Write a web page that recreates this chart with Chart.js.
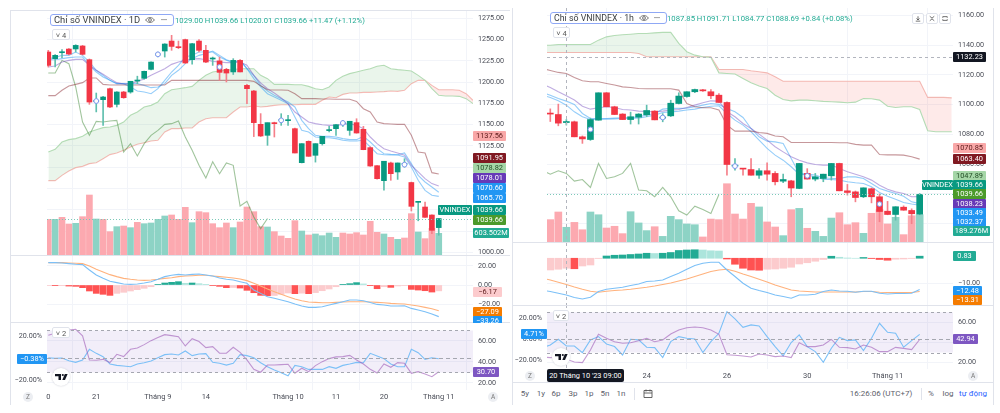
<!DOCTYPE html>
<html>
<head>
<meta charset="utf-8">
<title>VNINDEX</title>
<script src="https://cdn.jsdelivr.net/npm/chart.js@4/dist/chart.umd.min.js"></script>
<style>
html, body { margin: 0; background: #fff; }
#page { position: relative; width: 1000px; height: 413px; overflow: hidden; font-family: Roboto, sans-serif; }
#page canvas { position: absolute; }
.abs { position: absolute; white-space: nowrap; }
.tag { position: absolute; height: 10px; line-height: 10px; font-size: 7.4px; text-align: center; z-index: 5; border-radius: 1px; }
.box { position: absolute; border: 1px solid #e0e3eb; border-radius: 2px; background: #fff; color: #555; font-size: 7.5px; text-align: center; z-index: 4; box-sizing: border-box; }
.pill { position: absolute; border: 1px solid #8fa8f5; border-radius: 3px; background: #fff; color: #3c4043; font-size: 9.4px; box-sizing: border-box; z-index: 4; padding-left: 3px; }
.head { position: absolute; color: #22ab94; font-size: 7.7px; z-index: 3; white-space: nowrap; }
.round { position: absolute; width: 10px; height: 10px; line-height: 10px; border-radius: 50%; background: #eceef2; color: #777; font-size: 6.5px; text-align: center; z-index: 4; }
.tool { position: absolute; top: 389px; font-size: 8px; line-height: 10px; color: #5d606b; transform: translateX(-50%); white-space: nowrap; }
</style>
</head>
<body>
<div id="page"></div>
<script>
// left chart, daily
var lOpen = [1235.4,1227.6,1234.6,1238.9,1239,1242.5,1226.4,1177,1179.4,1192.3,1173.9,1188.4,1188.4,1201.3,1204.5,1215,1232,1236.6,1248.3,1241.3,1250,1226.4,1248.3,1237.4,1227.2,1225,1215,1212,1225.6,1196.2,1189.6,1150.4,1137.5,1152,1154.7,1154.7,1145.3,1105.3,1130.4,1114,1127.7,1143,1145.3,1151.2,1143.3,1152.4,1144.5,1123,1101.8,1084.2,1105,1094.4,1103.4,1082,1058.7,1053.2,1043.8,1029];
var lHigh = [1237.4,1232.3,1238.2,1239.5,1244,1243.2,1227.2,1187.2,1183.3,1193,1188.8,1189.2,1201,1207,1213,1224,1235.4,1245.2,1255,1248.3,1250.6,1245.6,1250,1243.2,1229.5,1229.5,1216.2,1227.6,1226.4,1197.4,1190.4,1163,1152,1153,1162.9,1161,1146,1127.7,1131,1127.7,1136.3,1148,1150.4,1155,1154,1157,1148,1124,1102,1107,1106,1105,1110,1082.5,1059.5,1059,1044,1039.66];
var lLow = [1217.8,1217.8,1228.8,1232,1235.4,1232,1173.9,1165,1149.2,1170,1170.8,1181,1187,1198.2,1203.5,1214.5,1229.5,1229.5,1237.4,1239.3,1222,1221,1235.4,1223,1219.7,1202.1,1200.2,1209,1211.9,1174.7,1136,1136,1125.7,1135.5,1149.2,1149.2,1116.7,1105,1112.8,1106,1126,1141.4,1137.5,1148,1137.5,1140,1120.5,1101,1086,1073,1084.6,1085.7,1100,1048.5,1037,1041,1022,1020.01];
var lClose = [1219.7,1231.5,1235.4,1233,1243.2,1232.7,1176.6,1178.6,1182.5,1170.8,1188.4,1181.7,1201,1202.1,1212.7,1223.6,1233,1244.8,1242,1240.5,1222.5,1245.2,1237.4,1223.6,1228,1211.5,1210.7,1225.6,1212,1192.3,1152.4,1136.7,1152.4,1151.2,1155.5,1155.9,1116.7,1127.7,1112.8,1127.7,1136.3,1143.7,1150,1152.4,1154,1140.2,1120.6,1101.4,1086.5,1107,1092.4,1105,1104.2,1054,1059.5,1041.1,1025.8,1039.66];
var lVolume = [993,993,1049,863,882,1067,1670,1002,993,650,789,807,761,909,872,891,993,1086,1114,993,1327,900,1206,1179,872,761,891,761,919,1336,1206,789,780,650,529,464,956,668,557,585,538,612,492,612,585,622,557,937,631,585,492,436,473,1151,640,455,742,603.5];
var lVolumeDir = "RGRRGRRGRRGRGRGGGGRRRGRRRRRGRRRRGRRRRGRGGGGRRRRRRGRGRRGRRG";
var lBrown = [1184.1,1184.1,1190.4,1195.5,1197.4,1199.4,1204.9,1204.9,1197.4,1196.6,1196.6,1196.6,1196.6,1196.6,1196.6,1196.6,1196.6,1196.6,1202.1,1202.1,1202.1,1202.1,1202.1,1202.1,1202.1,1202.1,1202.1,1202.1,1202.1,1202.1,1200.9,1195.8,1191.1,1190.7,1190.7,1190.4,1186.4,1180.6,1180.6,1180.6,1180.2,1180.2,1179.8,1179.8,1179.8,1177.4,1168.8,1164.9,1153.1,1151.2,1150.8,1150.4,1150.4,1137.5,1117.9,1116.7,1093.6,1091.95];
var lPurple = [1217.8,1219,1223.7,1225.6,1226.8,1226.8,1219.8,1213.9,1209.2,1204.1,1199.4,1197.8,1198.2,1200.9,1203.7,1208,1211.9,1215.8,1220.9,1223.7,1225.6,1227.2,1227.6,1226.4,1224.4,1223.7,1222.9,1222.9,1223.7,1219.8,1208,1199,1192.3,1187.2,1181.3,1174.7,1164.9,1159,1153.1,1151.2,1150,1149.2,1149.2,1150.4,1151.2,1149.2,1145.3,1135.5,1127.7,1121.8,1119,1116.7,1114,1102.2,1094.4,1086.5,1080.7,1078.01];
var lBlueA = [1227.6,1228.8,1231.5,1231.5,1235.4,1231.5,1223.7,1213.9,1208,1202.1,1198.2,1198.2,1194.3,1189.6,1188.4,1186.4,1192.3,1202.1,1211.9,1219.8,1229.5,1231.5,1235.4,1235.4,1235.4,1229.5,1225.6,1222.5,1225.6,1215.8,1208,1196.2,1189.6,1184.5,1180.6,1176.7,1170.8,1155.1,1145.3,1137.5,1136.3,1136.3,1135.5,1133.6,1132.4,1132.4,1136.3,1129.6,1121.8,1115.9,1115.1,1114.7,1116.7,1104.2,1090.4,1082.6,1076.7,1070.6];
var lBlueB = [1226.4,1226.4,1227.6,1228.8,1229.5,1229.5,1219.8,1211.9,1206,1202.1,1198.2,1198.2,1198.2,1198.2,1196.2,1193.5,1194.3,1198.2,1208,1213.9,1221.7,1227.6,1231.5,1233.5,1236.6,1231.5,1226.4,1223.7,1225.6,1215.8,1204.1,1194.3,1186.4,1182.5,1178.6,1174.7,1159,1143.3,1141.4,1135.5,1134.7,1134.7,1133.6,1131.6,1130.8,1130.8,1131.6,1123.8,1115.9,1114.7,1114.4,1114.4,1112,1100.2,1084.6,1072.8,1067,1065.7];
var lSpanA = [1117.9,1121,1129.6,1132.4,1133.6,1136.3,1141.4,1144.1,1146.5,1147.3,1149.2,1153.1,1161,1164.9,1170.8,1172.7,1176.7,1186.4,1191.1,1192.3,1193.5,1195,1202.1,1208,1211.9,1213.1,1213.9,1214.7,1215.8,1215.8,1215.8,1208,1204.1,1197.4,1197.4,1197.4,1197,1197,1195,1192.3,1191.1,1194.3,1202.1,1206.8,1210,1211.9,1213.9,1215.8,1218.6,1219.8,1215.8,1214.7,1213.9,1213.1,1208,1202.1,1192.3,1184.5,1183.7,1183.7,1183.3,1180.6,1174.7];
var lSpanB = [1084.2,1084.2,1090.4,1095.5,1099.5,1101,1104.2,1105.3,1110,1114.8,1116.7,1119.8,1123.8,1126.9,1128.8,1130.8,1131.6,1141.4,1145.3,1145.3,1146.1,1146.1,1153.1,1157,1158.2,1158.2,1158.2,1164.9,1170.8,1170.8,1172.3,1170.8,1171.5,1172.7,1173.5,1173.5,1173.5,1173.9,1173.9,1173.9,1178.6,1182.5,1181.7,1185.6,1187.2,1187.2,1188,1188,1188.4,1188.8,1189.6,1189.2,1190.4,1198.2,1202.1,1202.1,1196.2,1191.1,1191.1,1191.1,1190.4,1186.4,1178.6];
var lLagging = [1210.7,1210.7,1225.6,1221.7,1194.3,1153.1,1137.5,1153.9,1153.1,1154.3,1155.1,1117.9,1127.7,1113.2,1127.7,1137.5,1143.3,1150.4,1151.2,1154.3,1135.5,1119.8,1102.2,1087.3,1106.5,1092.4,1105,1102.2,1054.4,1059.9,1041.5,1027.8,1039.66];
var lMarkerAt = [7,16,25,34,43,52];
var lMarkerPrice = [1177.8,1232.7,1217.8,1155.1,1152,1103];
var lMacd = [23.5,23.5,23.2,22.5,21.8,21.4,15.8,10.5,7,3.9,2.5,1.1,.7,1.1,2.1,3.5,6,8.8,10.2,11.2,10.5,11.2,11.6,10.5,9.5,7.4,6,5.3,3.5,1.8,-5.3,-8.8,-12.3,-14,-15.8,-17.6,-20,-22.1,-23.5,-23.5,-22.8,-21.1,-19.3,-17.6,-15.8,-15.8,-16.5,-18.3,-20.4,-21.1,-22.1,-22.1,-21.8,-24.6,-26.3,-28.1,-30.5,-33.26];
var lSignal = [23.5,23.5,23.5,23.2,22.8,22.5,20,16.5,13.7,10.9,8.8,7,6,5.3,4.9,5.3,6,7,7.7,8.8,9.5,9.8,10.2,10.2,9.5,8.8,8.1,7.4,6.3,4.6,1.8,-1.1,-4.2,-7,-9.8,-12.3,-14.7,-16.5,-17.9,-18.3,-18.6,-18.6,-18.3,-17.9,-17.6,-17.6,-17.6,-17.9,-18.3,-18.6,-19.3,-19.7,-20,-21.1,-22.1,-23.5,-24.9,-27.09];
var lHist = [-.4,-.7,-.7,-1.1,-1.4,-2.8,-6.3,-8.8,-9.8,-10.9,-8.8,-7.7,-6.3,-4.9,-3.5,-1.8,.7,2.1,2.8,3.5,1.8,2.1,1.4,.7,-.4,-1.4,-2.8,-2.6,-3.2,-5.6,-8.1,-10.9,-11.2,-11,-9.8,-8.4,-9.1,-8.6,-9.1,-8,-6,-4.2,-1.8,.7,1.4,2.5,1.1,-.7,-3.9,-1.8,-2.5,-1,-.4,-4.6,-5.3,-6,-7.4,-6.17];
var lRsi = [65.4,67.3,68.9,70.5,71.1,64.8,41.9,41.6,42.5,39.4,47.3,45.1,52.1,53.3,56.5,60.3,63.2,66,65.1,64.1,55.2,62.2,59.4,53.7,54.6,48.3,48.3,54,49.2,41.9,33,30.2,37.1,37.1,37.5,37.8,29.2,34,30.8,36.5,40.3,43.2,44.8,45.1,46.3,41.9,38.1,33,29.5,38.1,34.9,39.4,38.7,29.2,30.8,28.6,26,30.7];
var lRoc = [.6,0,.3,-2.2,-3.7,-1.5,8.3,4.6,1.5,-5.2,-6.5,-7.1,-7.7,-5.2,-4,-2.5,.6,3.4,4,3.1,6.8,2.5,4,4.3,-3.7,-4.6,-6.2,-4.6,3.4,2.5,.6,-4,-7.7,-10.8,-13.2,-16,-6.5,-7.7,-10.2,-10.2,-10.2,-7.7,-9.2,-6.5,-5.2,-3.7,-4,4.6,2.2,-.3,-5.2,-7.7,-7.7,8.3,5.2,-.9,.6,-.38];
var lTimeAt = [0,7,16,23,35,42,49,57];
var lTimeLabels = ["0","21","Tháng 9","14","Tháng 10","11","20","Tháng 11"];
var lPriceTicks = [1275,1250,1225,1200,1175,1150,1125,1100,1075,1050,1025,1000];
var lMacdTicks = [20,0,-20];
var lRsiTicks = [60,40,20];

// right chart, hourly. Line arrays start one bar before the first candle
var rOpen = [1094,1093.4,1088,1088.5,1078.4,1076.6,1089.6,1108,1098.6,1093.7,1090,1091.6,1093.2,1095.7,1091,1092.5,1100.8,1105.5,1108.7,1110,1108.7,1106.4,1101.5,1058.7,1057,1056.4,1052.6,1055.6,1053.8,1048.6,1048.8,1043.7,1053.8,1050,1050.4,1052.2,1060.5,1042.1,1041.4,1038.1,1043.5,1038.1,1028.4,1026.2,1031.1,1028.9,1026.4];
var rHigh = [1097.2,1100.4,1090,1089,1079,1091,1108,1108.2,1099,1094,1095,1094,1099.7,1096,1094,1103,1108,1108.7,1110.5,1110.4,1110.2,1107.5,1102,1063.8,1057.3,1063.8,1057,1061,1055,1053.3,1049.2,1060.5,1057,1053.8,1053.3,1060.5,1060.7,1046.4,1042,1044.1,1044,1040,1035,1031.4,1032,1030,1040.3];
var rLow = [1088.7,1085.8,1086.3,1078.4,1074,1076,1089.6,1098.6,1093.4,1090,1087,1087,1092,1089.8,1088.5,1092,1100.5,1105,1108,1109,1104,1101.5,1052.6,1056,1052.6,1052.6,1050.4,1049.3,1046,1047.5,1038.1,1043.5,1050,1048.8,1048.2,1049.3,1042.1,1039.2,1034.7,1037.5,1034,1021.3,1026,1022.4,1029,1020,1026];
var rClose = [1093.7,1087.6,1088.5,1078.4,1077,1090,1108,1098.6,1093.4,1090,1091.9,1093.7,1096.1,1089.8,1091.5,1101,1105.8,1108.7,1110.2,1109.3,1106,1101.5,1059.8,1059,1056.7,1052.6,1055.6,1053.3,1048.2,1049.7,1044,1060.5,1050,1051.5,1053.3,1060.5,1042.1,1041,1037.6,1044.1,1038.1,1028.2,1026.2,1031.4,1029.1,1026.7,1039.66];
var rVolume = [155,208,102,136,85,208,189,97,109,58,210,132,79,106,39,178,155,125,120,35,159,155,404,194,159,268,243,139,104,44,224,233,95,74,39,166,203,120,134,60,199,224,125,171,51,182,189.3];
var rVolumeDir = "RRGRRGGRRRGGGRGGGGGRRRRRRRGRRGRGRGGGRRRGRRRGRRG";
var rBrown = [1124.4,1123,1121.7,1121,1118.3,1116.1,1115.4,1115.4,1114.3,1113.2,1112,1111.6,1110.9,1110.7,1110.7,1110.7,1110.7,1109.8,1100.8,1098.6,1097.9,1097.9,1096.4,1086.3,1082.2,1082.2,1082.2,1081.3,1080.7,1078.9,1078.4,1074.6,1074.6,1074.6,1074.6,1074.6,1074.6,1074.4,1074.4,1073.3,1072.8,1072.8,1066.5,1066.3,1066.3,1066.1,1065,1063.4];
var rPurple = [1113.8,1111.6,1108.7,1106,1103.1,1099,1097,1097.9,1098.6,1098.1,1096.8,1096.4,1095.7,1095.5,1095.2,1095.7,1096.4,1096.8,1098.1,1099.7,1101.3,1102.6,1102.4,1095.2,1091.9,1087.4,1084,1080.2,1076.2,1071.7,1068.3,1065,1062.7,1060.9,1059.8,1059.4,1059.4,1057.1,1054.9,1053.3,1051.5,1049.3,1045.9,1043.2,1041.4,1040.3,1038.1,1038.23];
var rBlueA = [1108,1106.4,1104.2,1102.4,1100.2,1094.1,1090.7,1090.7,1090.7,1091,1091.2,1091.4,1091.9,1093,1094.1,1097,1097.5,1097.5,1097.7,1098.6,1099.7,1100.8,1100.2,1097.5,1095.2,1091.4,1084,1078.4,1075.5,1075,1073.9,1063.9,1053.8,1053.3,1052.7,1050.9,1050.4,1050.4,1051.5,1051.5,1050.4,1047,1043.7,1041.9,1040.3,1038.5,1034.7,1033.49];
var rBlueB = [1106.4,1104.9,1102.6,1099.7,1095.2,1091.9,1090.1,1090.1,1090.3,1090.5,1090.7,1091,1091,1091.9,1093,1094.8,1095.2,1095.7,1096.4,1097,1098.1,1099,1099.3,1094.1,1089.6,1086.3,1081.8,1076.2,1070.6,1066.1,1062.7,1058.3,1053.3,1052.7,1051.5,1049.7,1049.7,1049.3,1048.2,1047.5,1047,1044.8,1041,1038.5,1036.5,1034.3,1033.2,1032.37];
var rSpanA = [1140,1140,1140.5,1140.5,1140.5,1140.5,1140.5,1143.4,1145.6,1146.5,1147,1147.4,1147.9,1147.9,1148.3,1148.6,1148.6,1141.2,1135.6,1133.3,1132.2,1131.8,1121.4,1121,1120.6,1117.6,1114.7,1112.5,1110.9,1106.4,1103.5,1102.6,1103.1,1103.1,1102.6,1102.2,1102,1101.7,1101.3,1101.7,1104.2,1104,1103.1,1099,1098.1,1098.6,1098.6,1096.8,1082.5,1081.8,1081.8,1081.8];
var rSpanB = [1135.1,1135.1,1135.1,1135.1,1135.1,1135.1,1135.1,1135.1,1135.1,1135.1,1135.1,1135.1,1134.4,1132.2,1132.2,1132.2,1132.2,1132.2,1132.2,1132.2,1132.2,1132.2,1123.7,1123.7,1123.7,1123.7,1122.8,1122.1,1121.4,1118.8,1115.8,1115.8,1115.8,1115.8,1115.8,1115.8,1115.8,1115.8,1115.8,1115.8,1115.8,1115.8,1115.8,1115.8,1115.8,1115.8,1115.8,1115.8,1104.9,1104.9,1104.9,1104.6];
var rLagging = [1056,1053.3,1055.6,1053.8,1048.6,1049.7,1044.4,1060.5,1050.4,1051.5,1053.8,1060.5,1042.6,1042.1,1038.1,1044.4,1038.1,1028.7,1025.8,1031.8,1029.6,1026.9,1039.66];
var rMarkerAt = [5,14,23,32,41];
var rMarkerPrice = [1083.4,1091.4,1058.7,1052.2,1033.2];
var rMacd = [-12.8,-13.3,-14,-14.7,-15.7,-16.3,-15.6,-13.3,-12.4,-12,-11.6,-10.9,-10.3,-9.3,-9.1,-8.7,-7.3,-6,-4.4,-2.9,-2,-1.6,-1.6,-4.7,-7.3,-10,-12,-12.9,-13.7,-14.7,-15.3,-16,-14.7,-14.7,-14.4,-13.3,-12.7,-13.1,-13.2,-13.6,-13.2,-13.2,-14,-14.3,-14.1,-14.1,-14,-12.48];
var rSignal = [-8,-8.7,-9.6,-10.5,-11.5,-12.4,-13.2,-13.6,-13.2,-12.9,-12.7,-12.4,-12,-11.6,-11.1,-10.5,-9.9,-9.1,-8.3,-7.3,-6.3,-5.3,-4.7,-4.4,-5.2,-6.3,-7.3,-8.4,-9.5,-10.7,-11.7,-12.7,-13.1,-13.3,-13.5,-13.5,-13.5,-13.5,-13.5,-13.5,-13.3,-13.3,-13.6,-13.7,-13.7,-13.7,-13.7,-13.31];
var rHist = [-4.7,-4.4,-4,-4.2,-3.1,-2.7,-.1,.9,1.2,1.3,1.5,1.7,2,1.9,2,2.3,3.1,3.3,3.4,3.3,3,2.9,-.3,-2.4,-4,-4.7,-4.8,-4.4,-4.3,-4,-3.6,-2.3,-1.8,-1.2,-.5,.8,.4,.1,0,.3,-.1,-.5,-.8,-.4,-.3,-.1,.83];
var rRsi = [25.6,25,25.3,23.3,20.7,20,32.6,48.1,44.1,40.8,39.2,39.8,41.8,44.1,40.8,42.5,48.4,52.4,54.7,55.4,54.7,52.4,48.1,27.9,27.3,26.6,25.6,28.6,27.6,26,26.6,25,39.8,35.9,35.9,37.5,43.1,35.2,34.9,33.6,37.5,35.2,30.9,30.9,35.2,34.2,32.9,42.94];
var rRoc = [-8.1,-5.5,0,-6.5,-6.5,-12.9,-.6,2.6,-4.5,-7.1,-15.2,0,-.6,-7.7,-8.1,-17.7,-2.3,2.6,1,.3,-12.9,-2.3,5.8,26.8,19.7,11.6,13.9,12.9,2.6,-7.1,-16.1,-3.2,4.2,-7.1,-11.9,-22.3,-8.7,1.9,-1.3,-.6,-11,1,15.5,6.8,5.8,-7.7,-1.3,4.71];
var rTimeAt = [12,22,32,42];
var rTimeLabels = ["24","26","30","Tháng 11"];
var rPriceTicks = [1160,1140,1120,1100,1080,1060,1040,1020];
var rMacdTicks = [-10];
var rRsiTicks = [60,40,20];

var rocTicks = [20,0,-20];
var rsiBand = [70,30];

var UP = '#089981', DOWN = '#f23645';
var GRID = '#f2f4f9', TEXT = '#4a4d57';
var BROWN = 'rgba(128,25,34,0.45)', PURPLE = 'rgba(103,58,183,0.42)', BLUE = 'rgba(33,150,243,0.48)', LAG = 'rgba(67,140,60,0.5)';
var page = document.getElementById('page');

function xy(values, start) {
    return values.map(function (v, i) { return { x: i + start, y: v }; });
}

function line(values, color, start, yAxis, order) {
    return {
        type: 'line', data: xy(values, start), borderColor: color, borderWidth: 1.1,
        pointRadius: 0, tension: 0, yAxisID: yAxis || 'y', order: order || 5
    };
}

function cloud(a, b, start) {
    var spanA = line(a, '#b4dcb5', start, 'y', 8);
    spanA.fill = { target: '+1', above: 'rgba(67,160,71,0.11)', below: 'rgba(244,67,54,0.11)' };
    return [spanA, line(b, '#f8bfbb', start, 'y', 8)];
}

function candles(open, high, low, close, markerAt, markerPrice, thick) {
    var colors = close.map(function (c, i) { return c >= open[i] ? UP : DOWN; });
    return [{
        data: low.map(function (l, i) { return { x: i, y: [l, high[i]] }; }),
        backgroundColor: colors.map(function (c) { return c === UP ? '#5fbfae' : '#f5808a'; }),
        barThickness: 1, grouped: false, order: 3
    }, {
        data: open.map(function (o, i) { return { x: i, y: [o, close[i]] }; }),
        backgroundColor: colors, barThickness: thick, minBarLength: 1, grouped: false, order: 2
    }, {
        type: 'line', data: markerAt.map(function (at, i) { return { x: at, y: markerPrice[i] }; }),
        showLine: false, pointRadius: 2.4, pointBorderWidth: 1,
        pointBackgroundColor: '#fff', pointBorderColor: '#7f97ef', order: 1
    }];
}

function volumes(values, dirs, thick) {
    return {
        data: xy(values, 0), yAxisID: 'vol', grouped: false, barThickness: thick, order: 10,
        backgroundColor: values.map(function (v, i) { return dirs[i] === 'G' ? '#8dd3c5' : '#fca9b0'; })
    };
}

function histogram(values, thick) {
    return {
        data: xy(values, 0), grouped: false, barThickness: thick, order: 6,
        backgroundColor: values.map(function (v, i) {
            var rising = i === 0 || v >= values[i - 1];
            if (v >= 0) return rising ? '#22ab94' : '#ace5dc';
            return rising ? '#fccbcd' : '#ff5252';
        })
    };
}

function band(xMin, xMax) {
    var top = rsiBand[0], bottom = rsiBand[1];
    return [{
        type: 'line', data: [{ x: xMin, y: top }, { x: xMax, y: top }], borderWidth: 0, pointRadius: 0,
        fill: '+1', backgroundColor: 'rgba(126,87,194,0.1)', order: 9
    }, {
        type: 'line', data: [{ x: xMin, y: bottom }, { x: xMax, y: bottom }], borderWidth: 0, pointRadius: 0, order: 9
    }];
}

// dashed and dotted level lines, plus the crosshair
function guides(h, crossAt) {
    return {
        id: 'guides',
        afterDatasetsDraw: function (chart) {
            var c = chart.ctx, a = chart.chartArea;
            c.save();
            c.lineWidth = 1;
            (h || []).forEach(function (g) {
                var y = Math.round(chart.scales[g.axis || 'y'].getPixelForValue(g.v)) + 0.5;
                c.strokeStyle = g.color;
                c.setLineDash(g.dash);
                c.beginPath(); c.moveTo(a.left, y); c.lineTo(a.right, y); c.stroke();
            });
            if (crossAt !== undefined) {
                var x = Math.round(chart.scales.x.getPixelForValue(crossAt)) + 0.5;
                c.strokeStyle = '#b2b5be';
                c.setLineDash([3, 3]);
                c.beginPath(); c.moveTo(x, a.top); c.lineTo(x, a.bottom); c.stroke();
            }
            c.restore();
        }
    };
}

function axisTicks(values) {
    return function (scale) { scale.ticks = values.map(function (v) { return { value: v }; }); };
}

// tick labels must not shrink the plot area
function noPadding(s) {
    s.paddingTop = s.paddingBottom = s.paddingLeft = s.paddingRight = 0;
}

function pane(o) {
    var cv = document.createElement('canvas');
    cv.width = o.w; cv.height = o.h;
    cv.style.left = o.x + 'px'; cv.style.top = o.y + 'px';
    cv.style.width = o.w + 'px'; cv.style.height = o.h + 'px';
    page.appendChild(cv);

    var scales = {
        x: {
            type: 'linear', min: o.xMin, max: o.xMax, offset: false,
            afterBuildTicks: axisTicks(o.timeAt),
            afterFit: function (s) { s.height = o.stripH || 0; noPadding(s); },
            border: { display: false },
            grid: { color: GRID, drawTicks: false },
            ticks: {
                display: !!o.stripH, autoSkip: false, maxRotation: 0, padding: 3,
                color: TEXT, font: { family: 'Roboto', size: 7.5 },
                callback: function (v) { return o.timeLabels[o.timeAt.indexOf(v)]; }
            }
        },
        y: {
            position: 'right', min: o.yMin, max: o.yMax,
            afterBuildTicks: axisTicks(o.yTicks),
            afterFit: function (s) { s.width = o.axisW; noPadding(s); },
            border: { display: false },
            grid: { color: GRID, drawTicks: false },
            ticks: {
                padding: 5, color: TEXT, font: { family: 'Roboto', size: 7.2 },
                callback: function (v) { return v.toFixed(2).replace('-', '\u2212'); }
            }
        }
    };
    if (o.volMax) scales.vol = { display: false, min: 0, max: o.volMax };
    if (o.rocMin !== undefined) {
        scales.roc = {
            position: 'left', min: o.rocMin, max: o.rocMax,
            afterBuildTicks: axisTicks(rocTicks),
            afterFit: function (s) { s.width = o.padL; noPadding(s); },
            border: { display: false }, grid: { display: false, drawTicks: false },
            ticks: {
                padding: 5, color: TEXT, font: { family: 'Roboto', size: 7.2 },
                callback: function (v) { return v.toFixed(2).replace('-', '\u2212') + '%'; }
            }
        };
    }

    return new Chart(cv, {
        type: 'bar',
        data: { datasets: o.datasets },
        options: {
            responsive: false, animation: false, events: [],
            layout: { autoPadding: false, padding: { left: o.rocMin !== undefined ? 0 : o.padL, right: 0, top: 0, bottom: 0 } },
            plugins: { legend: { display: false }, tooltip: { enabled: false } },
            scales: scales
        },
        plugins: [guides(o.levels, o.crossAt)]
    });
}

function drawPanel(p) {
    var common = { x: p.x, w: p.w, padL: p.padL, axisW: p.axisW, xMin: p.xMin, xMax: p.xMax,
        timeAt: p.timeAt, timeLabels: p.timeLabels, crossAt: p.crossAt };
    pane(Object.assign({}, common, p.price));
    pane(Object.assign({}, common, p.macd));
    pane(Object.assign({}, common, p.rsi));
}

drawPanel({
    x: 10, w: 500, padL: 37, axisW: 37, xMin: -0.19, xMax: 62,
    timeAt: lTimeAt, timeLabels: lTimeLabels,
    price: {
        y: 10, h: 245, yMin: 996.8, yMax: 1284.8, yTicks: lPriceTicks, volMax: 6821,
        levels: [{ v: 1039.66, color: '#7cc9b8', dash: [1, 2] }],
        datasets: [volumes(lVolume, lVolumeDir, 6)]
            .concat(cloud(lSpanA, lSpanB, 0))
            .concat([
                line(lBrown, BROWN, 0), line(lPurple, PURPLE, 0),
                line(lBlueA, BLUE, 0), line(lBlueB, BLUE, 0),
                line(lLagging, LAG, 0)
            ])
            .concat(candles(lOpen, lHigh, lLow, lClose, lMarkerAt, lMarkerPrice, 5))
    },
    macd: {
        y: 256, h: 66, yMin: -38.9, yMax: 30.5, yTicks: lMacdTicks,
        datasets: [histogram(lHist, 6), line(lMacd, '#7cc0f7', 0, 'y', 4), line(lSignal, '#ffb27d', 0, 'y', 4)]
    },
    rsi: {
        y: 323, h: 82, stripH: 15, yMin: 13.3, yMax: 77.1, yTicks: lRsiTicks, rocMin: -29.2, rocMax: 32.6,
        levels: [
            { v: 70, color: '#a5a7b0', dash: [3, 3] }, { v: 30, color: '#a5a7b0', dash: [3, 3] },
            { v: 0, axis: 'roc', color: '#a5a7b0', dash: [4, 3] }
        ],
        datasets: band(-0.19, 62).concat([
            line(lRsi, 'rgba(156,89,182,0.6)', 0, 'y', 4), line(lRoc, '#7cc0f7', 0, 'roc', 4)
        ])
    }
});

drawPanel({
    x: 512, w: 481, padL: 35, axisW: 40, xMin: -0.41, xMax: 50.15,
    timeAt: rTimeAt, timeLabels: rTimeLabels, crossAt: 2,
    price: {
        y: 8, h: 234, yMin: 1007.7, yMax: 1165, yTicks: rPriceTicks, volMax: 1622,
        levels: [
            { v: 1039.66, color: '#7cc9b8', dash: [1, 2] },
            { v: 1132.23, color: '#b2b5be', dash: [3, 3] }
        ],
        datasets: [volumes(rVolume, rVolumeDir, 7)]
            .concat(cloud(rSpanA, rSpanB, -1))
            .concat([
                line(rBrown, BROWN, -1), line(rPurple, PURPLE, -1),
                line(rBlueA, BLUE, -1), line(rBlueB, BLUE, -1),
                line(rLagging, LAG, -1)
            ])
            .concat(candles(rOpen, rHigh, rLow, rClose, rMarkerAt, rMarkerPrice, 6))
    },
    macd: {
        y: 243, h: 62, yMin: -18.7, yMax: 6.1, yTicks: rMacdTicks,
        datasets: [histogram(rHist, 7), line(rMacd, '#7cc0f7', -1, 'y', 4), line(rSignal, '#ffb27d', -1, 'y', 4)]
    },
    rsi: {
        y: 305, h: 77, stripH: 13, yMin: 13.7, yMax: 77.2, yTicks: rRsiTicks, rocMin: -28.8, rocMax: 33.2,
        levels: [
            { v: 70, color: '#a5a7b0', dash: [3, 3] }, { v: 30, color: '#a5a7b0', dash: [3, 3] },
            { v: 0, axis: 'roc', color: '#a5a7b0', dash: [4, 3] }
        ],
        datasets: band(-0.41, 50.15).concat([
            line(rRsi, 'rgba(156,89,182,0.6)', -1, 'y', 4), line(rRoc, '#7cc0f7', -1, 'roc', 4)
        ])
    }
});

// overlays: everything the price scales do not draw
function el(cls, x, y, w, h, text, css) {
    var d = document.createElement('div');
    d.className = cls;
    d.style.left = x + 'px'; d.style.top = y + 'px';
    if (w) d.style.width = w + 'px';
    if (h) { d.style.height = h + 'px'; d.style.lineHeight = h + 'px'; }
    if (text) d.textContent = text;
    if (css) d.style.cssText += css;
    page.appendChild(d);
    return d;
}
function tag(x, yMid, w, text, bg, color, css) {
    return el('tag', x, yMid - 5, w, 0, text, 'background:' + bg + ';color:' + (color || '#fff') + ';' + (css || ''));
}
function rule(x, y, w, h) {
    el('abs', x, y, w, h, '', 'background:#e0e3eb;line-height:0;z-index:2');
}
function logo(x, y) {
    var d = el('abs', x, y, 18, 18, '', 'border-radius:50%;background:#fff;box-shadow:0 0 2px #c8cad2;z-index:4');
    d.innerHTML = '<svg width="18" height="18" viewBox="0 0 18 18"><path d="M3 6h6v6H6.5V8.2H3z" fill="#131722"/><circle cx="10.8" cy="7" r="1.1" fill="#131722"/><path d="M12.8 6H15.6L13 12H10.3z" fill="#131722"/></svg>';
}
function eye(x, y) {
    var d = el('abs', x, y, 10, 8, '', 'z-index:5;line-height:0');
    d.innerHTML = '<svg width="10" height="8" viewBox="0 0 10 8"><path d="M.6 4C2.8 .8 7.2 .8 9.4 4 7.2 7.2 2.8 7.2 .6 4z" fill="none" stroke="#555" stroke-width=".8"/><circle cx="5" cy="4" r="1.4" fill="none" stroke="#555" stroke-width=".8"/></svg>';
}
function collapse(x, y, w, text) {
    el('box', x, y, w, 11, '\u02c5 ' + text);
}

// frames and pane separators
rule(10, 10, 500, 1); rule(10, 10, 1, 395);
rule(10, 255, 500, 1); rule(10, 322, 500, 1);
rule(512, 8, 1, 397); rule(993, 8, 1, 397);
rule(512, 242, 481, 1); rule(512, 305, 481, 1); rule(512, 382, 481, 1);

// left header
el('pill', 50, 14, 124, 12, 'Chỉ số VNINDEX · 1D', 'line-height:10px');
eye(145, 16);
el('abs', 161, 14, 12, 12, '•••', 'font-size:6px;color:#555;z-index:5');
el('head', 175, 16, 0, 0, '1029.00 H1039.66 L1020.01 C1039.66 +11.47 (+1.12%)', 'line-height:10px');
collapse(52, 29, 18, '4');
collapse(52, 327, 18, '2');
logo(52, 368);
el('round', 23, 392, 0, 0, 'Z');
el('round', 488, 392, 0, 0, 'A');

// left tags
tag(473, 136, 33, '1137.56', '#f9a8a8', '#5b1a1a');
tag(473, 158, 33, '1091.95', '#801922');
tag(473, 168, 33, '1078.82', '#a5d6a7', '#234d25');
tag(473, 178, 33, '1078.01', '#673ab7');
tag(473, 188, 33, '1070.60', '#2196f3');
tag(473, 197.5, 33, '1065.70', '#2196f3');
tag(438, 210, 34, 'VNINDEX', '#089981');
tag(473, 210, 33, '1039.66', '#089981');
tag(473, 220, 33, '1039.66', '#4c9a2a');
tag(473, 233, 36, '603.502M', '#22ab94');
tag(473, 292, 29, '\u22126.17', '#fccbcd', '#5b1a1a');
tag(473, 312, 29, '\u221227.09', '#f57c00');
tag(473, 321, 29, '\u221233.26', '#2196f3', '', 'clip-path:inset(0 0 3px 0)');
tag(473, 372, 26, '30.70', '#7e57c2');
tag(17, 359, 30, '\u22120.38%', '#2196f3');

// right header
el('pill', 550, 12, 117, 12, 'Chỉ số VNINDEX · 1h', 'line-height:10px;font-size:8.8px');
eye(639, 14);
el('abs', 654, 12, 12, 12, '•••', 'font-size:6px;color:#555;z-index:5');
el('head', 667, 14, 0, 0, '1087.85 H1091.71 L1084.77 C1088.69 +0.84 (+0.08%)', 'line-height:10px');
collapse(553, 27, 17, '4');
collapse(553, 310, 16, '2');
logo(552, 348);
el('round', 525, 371, 0, 0, 'Z');
el('round', 968, 371, 0, 0, 'A');
var icons = [
    'M6 3v5M4 6l2 2 2-2M3 9.5h6',
    'M3 3l3 2.5L9 3M3 9l3-2.5L9 9',
    'M3 5V3.5h6V5M3 7v1.5h6V7'
];
icons.forEach(function (path, i) {
    var b = el('box', 912 + i * 13.5, 13, 12, 11, '', 'line-height:0');
    b.innerHTML = '<svg width="10" height="9" viewBox="0 0 12 12"><path d="' + path + '" fill="none" stroke="#444" stroke-width="1"/></svg>';
});

// right tags
tag(953, 57, 33, '1132.23', '#131722');
tag(953, 148, 33, '1070.85', '#f9a8a8', '#5b1a1a');
tag(953, 159, 33, '1063.40', '#801922');
tag(953, 176, 33, '1047.89', '#a5d6a7', '#234d25');
tag(922, 185, 31, 'VNINDEX', '#089981');
tag(953, 185, 33, '1039.66', '#089981');
tag(953, 194, 33, '1039.66', '#4c9a2a');
tag(953, 204, 33, '1038.23', '#673ab7');
tag(953, 213, 33, '1033.49', '#2196f3');
tag(953, 222, 33, '1032.37', '#2196f3');
tag(953, 231, 37, '189.276M', '#22ab94');
tag(953, 256, 23, '0.83', '#22ab94');
tag(953, 291, 29, '\u221212.48', '#2196f3');
tag(953, 300, 29, '\u221213.31', '#f57c00');
tag(953, 339, 25, '42.94', '#7e57c2');
tag(521, 334, 26, '4.71%', '#2196f3');
el('tag', 547, 369, 77, 0, "20 Tháng 10 '23   09:00", 'background:#131722;color:#fff;height:13px;line-height:13px;border-radius:2px');

// range bar under the right chart
var ranges = ['5y', '1y', '6p', '3p', '1p', '5n', '1n'];
var rangeX = [525, 541, 556, 573, 589, 605, 621];
ranges.forEach(function (r, i) { el('tool', rangeX[i], 389, 0, 0, r); });
rule(634, 388, 1, 12);
var cal = el('abs', 642, 389, 12, 10, '', 'line-height:0');
cal.innerHTML = '<svg width="12" height="10" viewBox="0 0 12 10"><path d="M2 1.5h8v7H2zM2 4h8M4 .5v2M8 .5v2" fill="none" stroke="#555" stroke-width=".9"/></svg>';
el('tool', 881, 389, 0, 0, '16:26:06 (UTC+7)');
rule(921, 388, 1, 12);
el('tool', 931, 389, 0, 0, '%');
el('tool', 948, 389, 0, 0, 'log');
el('tool', 973, 389, 0, 0, 'tự động', 'color:#2962ff');
</script>
</body>
</html>
